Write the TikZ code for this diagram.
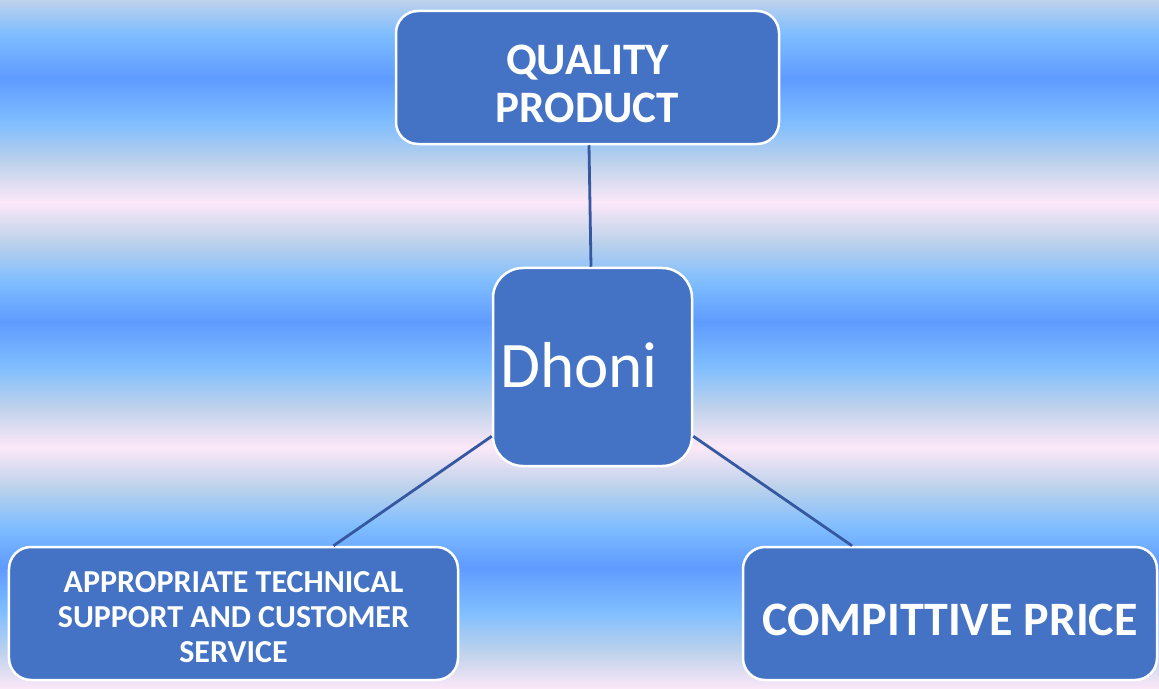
\documentclass[tikz,border=0pt]{standalone}
\usepackage{fontspec}
\setmainfont{Carlito}
\definecolor{bgB}{HTML}{5E9BFF}
\definecolor{bgL}{HTML}{80BEFF}
\definecolor{bgG}{HTML}{BED2EB}
\definecolor{bgP}{HTML}{FCE8F8}
\definecolor{boxblue}{HTML}{4472C4}
\definecolor{linkblue}{HTML}{3558A0}
\pgfdeclareverticalshading{bgstripes}{1159bp}{%
color(0bp)=(bgP); color(37bp)=(bgG); color(77bp)=(bgL); color(122bp)=(bgB);
color(163bp)=(bgL); color(203bp)=(bgG); color(242bp)=(bgP); color(282bp)=(bgG);
color(322bp)=(bgL); color(367bp)=(bgB); color(408bp)=(bgL); color(448bp)=(bgG);
color(487bp)=(bgP); color(526bp)=(bgG); color(566bp)=(bgL); color(611bp)=(bgB);
color(656bp)=(bgL); color(689bp)=(bgG)}
\tikzset{
  box/.style={draw=white, line width=2.5bp, fill=boxblue, text=white,
    align=center, inner sep=0pt},
  link/.style={draw=linkblue, line width=2.8bp},
}
\begin{document}
\begin{tikzpicture}[x=1bp,y=-1bp]
\useasboundingbox (0,0) rectangle (1159,689);
\node[inner sep=0pt, outer sep=0pt, anchor=north west] (bg) at (0,0) {\pgfuseshading{bgstripes}};
\node[box, rounded corners=22bp, minimum width=383bp, minimum height=133bp,
  font={\fontsize{45bp}{48bp}\selectfont\bfseries}] (top) at (587.5,77.5)
  {\rule{0pt}{43bp}QUALITY\\PRODUCT};
\node[box, rounded corners=30bp, minimum width=199bp, minimum height=198bp,
  text height=50bp, text depth=10bp,
  font={\fontsize{65bp}{70bp}\selectfont}] (center) at (592.5,367)
  {Dhoni\kern27bp};
\node[box, rounded corners=22bp, minimum width=449bp, minimum height=133bp,
  font={\fontsize{32bp}{35bp}\selectfont\bfseries}] (left) at (233.5,613.5)
  {\rule{0pt}{29bp}APPROPRIATE TECHNICAL\\SUPPORT AND CUSTOMER\\SERVICE};
\node[box, rounded corners=22bp, minimum width=414bp, minimum height=133bp,
  text height=43bp, text depth=0bp,
  font={\fontsize{48bp}{50bp}\selectfont\bfseries}] (right) at (950,613.5)
  {COMPITTIVE PRICE};
\draw[link] ([xshift=1.5bp]top.south) -- ([xshift=-1.5bp]center.north);
\draw[link] ([yshift=31bp]center.south west) -- ([xshift=100bp]left.north);
\draw[link] ([yshift=31bp]center.south east) -- ([xshift=-98bp]right.north);
\end{tikzpicture}
\end{document}
